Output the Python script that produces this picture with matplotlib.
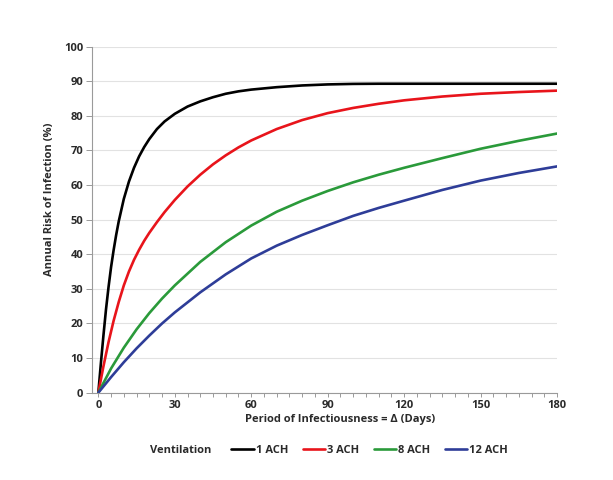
import matplotlib
matplotlib.use("Agg")
import matplotlib.pyplot as plt
from matplotlib.ticker import MultipleLocator

plt.rcParams['font.family'] = ['Open Sans', 'DejaVu Sans']

days_1 = [0, 1, 2, 3, 4, 5, 6, 7, 8, 10, 12, 14, 16, 18, 20, 23, 26, 30, 35, 40,
          45, 50, 55, 60, 70, 80, 90, 100, 110, 120, 140, 160, 180]
ach_1 = [0, 8.5, 16.5, 24, 30.5, 36.3, 41.2, 45.6, 49.5, 56, 61, 65, 68.3, 71,
         73.3, 76.2, 78.4, 80.6, 82.7, 84.2, 85.4, 86.4, 87.1, 87.6, 88.3, 88.8,
         89.1, 89.25, 89.3, 89.3, 89.3, 89.3, 89.3]

days_3 = [0, 2, 4, 6, 8, 10, 12, 14, 16, 18, 20, 23, 26, 30, 35, 40, 45, 50, 55,
          60, 70, 80, 90, 100, 110, 120, 135, 150, 165, 180]
ach_3 = [0, 7.6, 14.6, 20.8, 26.2, 31.0, 35.0, 38.4, 41.3, 43.9, 46.2, 49.3,
         52.2, 55.7, 59.6, 63.0, 66.0, 68.6, 70.9, 72.9, 76.2, 78.8, 80.8, 82.3,
         83.5, 84.5, 85.6, 86.4, 86.9, 87.3]

days_8 = [0, 5, 10, 15, 20, 25, 30, 40, 50, 60, 70, 80, 90, 100, 110, 120, 135,
          150, 165, 180]
ach_8 = [0, 7, 13, 18.3, 23, 27.2, 31, 37.8, 43.5, 48.3, 52.3, 55.5, 58.3, 60.8,
         63, 65, 67.8, 70.5, 72.8, 74.9]

days_12 = [0, 5, 10, 15, 20, 25, 30, 40, 50, 60, 70, 80, 90, 100, 110, 120, 135,
           150, 165, 180]
ach_12 = [0, 4.5, 8.8, 12.8, 16.5, 20, 23.2, 29, 34.2, 38.8, 42.5, 45.6, 48.4,
          51.1, 53.4, 55.5, 58.6, 61.3, 63.5, 65.4]

series = [
    ('1 ACH', days_1, ach_1, '#000000'),
    ('3 ACH', days_3, ach_3, '#e8141b'),
    ('8 ACH', days_8, ach_8, '#2a9a3a'),
    ('12 ACH', days_12, ach_12, '#2e3d98'),
]

fig = plt.figure(figsize=(6.13, 4.80), dpi=100)
ax = fig.add_axes([0.1496, 0.1819, 0.7591, 0.7208])

for label, x, y, c in series:
    ax.plot(x, y, color=c, lw=1.9, label=label, solid_capstyle='round',
            solid_joinstyle='round')

ax.set_xlim(-2.6, 180)
ax.set_ylim(0, 100)
ax.xaxis.set_major_locator(MultipleLocator(30))
ax.xaxis.set_minor_locator(MultipleLocator(5))
ax.yaxis.set_major_locator(MultipleLocator(10))
ax.grid(axis='y', color='#e2e2e2', lw=0.8)
ax.set_axisbelow(True)

for s in ['top', 'right']:
    ax.spines[s].set_visible(False)
for s in ['left', 'bottom']:
    ax.spines[s].set_color('#9a9a9a')
    ax.spines[s].set_linewidth(0.8)

ax.tick_params(axis='both', which='both', color='#9a9a9a', width=0.7,
               labelsize=8, labelcolor='#2a2a2a', pad=2)
ax.tick_params(axis='x', which='both', length=3)
ax.tick_params(axis='y', length=4)
for t in ax.get_xticklabels() + ax.get_yticklabels():
    t.set_fontweight('bold')

ax.set_xlabel('Period of Infectiousness = Δ (Days)', fontsize=8,
              fontweight='bold', color='#2a2a2a')
ax.set_ylabel('Annual Risk of Infection (%)', fontsize=8,
              fontweight='bold', color='#2a2a2a')
ax.xaxis.set_label_coords(0.533, -0.062)
ax.yaxis.set_label_coords(-0.078, 0.558)

fig.text(0.2945, 0.061, 'Ventilation', fontsize=8, fontweight='bold',
         color='#2a2a2a', ha='center', va='center')
fig.legend(loc='center', bbox_to_anchor=(0.603, 0.061), ncol=4, frameon=False,
           handlelength=2.0, handletextpad=0.2, columnspacing=1.3,
           prop={'size': 8, 'weight': 'bold'}, labelcolor='#2a2a2a')

fig.savefig('out.png', dpi=100)
